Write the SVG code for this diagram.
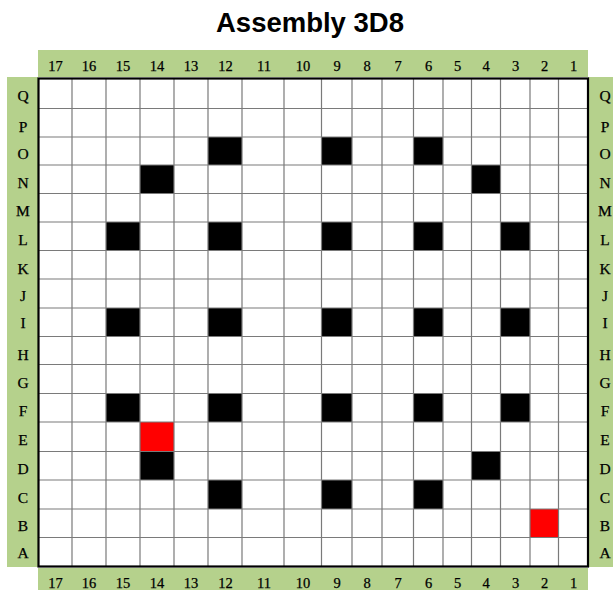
<svg xmlns="http://www.w3.org/2000/svg" width="613" height="590" viewBox="0 0 613 590">
<style>
.band{fill:#b5d18c}
.lbl{font-family:"Liberation Serif","Times New Roman",serif;font-size:14.5px;fill:#000;stroke:#000;stroke-width:0.25;text-anchor:middle}
.rl{font-size:15.5px}
.title{font-family:"Liberation Sans",Arial,sans-serif;font-size:27.5px;font-weight:bold;fill:#000;text-anchor:middle}
.blk{fill:#000}
.red{fill:#ff0000}
.gl{stroke:#7a7a7a;stroke-width:1.2;fill:none}
</style>
<rect width="613" height="590" fill="#fff"/>
<text class="title" x="310" y="32">Assembly 3D8</text>
<g id="bands">
<rect class="band" x="38" y="50" width="550" height="27"/>
<rect class="band" x="7" y="77" width="31" height="490"/>
<rect class="band" x="588" y="77" width="25" height="490"/>
<rect class="band" x="38" y="568" width="550" height="22"/>
</g>
<g id="cells">
<rect class="blk" x="208" y="137" width="34" height="28"/>
<rect class="blk" x="321.5" y="137" width="30.5" height="28"/>
<rect class="blk" x="413.5" y="137" width="29.5" height="28"/>
<rect class="blk" x="140" y="165" width="34" height="28.5"/>
<rect class="blk" x="471.5" y="165" width="29" height="28.5"/>
<rect class="blk" x="106" y="222" width="34" height="28.5"/>
<rect class="blk" x="208" y="222" width="34" height="28.5"/>
<rect class="blk" x="321.5" y="222" width="30.5" height="28.5"/>
<rect class="blk" x="413.5" y="222" width="29.5" height="28.5"/>
<rect class="blk" x="500.5" y="222" width="29.5" height="28.5"/>
<rect class="blk" x="106" y="308" width="34" height="28.5"/>
<rect class="blk" x="208" y="308" width="34" height="28.5"/>
<rect class="blk" x="321.5" y="308" width="30.5" height="28.5"/>
<rect class="blk" x="413.5" y="308" width="29.5" height="28.5"/>
<rect class="blk" x="500.5" y="308" width="29.5" height="28.5"/>
<rect class="blk" x="106" y="393.5" width="34" height="28.5"/>
<rect class="blk" x="208" y="393.5" width="34" height="28.5"/>
<rect class="blk" x="321.5" y="393.5" width="30.5" height="28.5"/>
<rect class="blk" x="413.5" y="393.5" width="29.5" height="28.5"/>
<rect class="blk" x="500.5" y="393.5" width="29.5" height="28.5"/>
<rect class="red" x="140" y="422" width="34" height="29.5"/>
<rect class="blk" x="140" y="451.5" width="34" height="28.5"/>
<rect class="blk" x="471.5" y="451.5" width="29" height="28.5"/>
<rect class="blk" x="208" y="480" width="34" height="29"/>
<rect class="blk" x="321.5" y="480" width="30.5" height="29"/>
<rect class="blk" x="413.5" y="480" width="29.5" height="29"/>
<rect class="red" x="530" y="509" width="28.5" height="28.5"/>
</g>
<g id="grid">
<path class="gl" d="M72 78.5V566.5M106 78.5V566.5M140 78.5V566.5M174 78.5V566.5M208 78.5V566.5M242 78.5V566.5M284 78.5V566.5M321.5 78.5V566.5M352 78.5V566.5M382 78.5V566.5M413.5 78.5V566.5M443 78.5V566.5M471.5 78.5V566.5M500.5 78.5V566.5M530 78.5V566.5M558.5 78.5V566.5"/>
<path class="gl" d="M38.5 108.5H588M38.5 137H588M38.5 165H588M38.5 193.5H588M38.5 222H588M38.5 250.5H588M38.5 279H588M38.5 308H588M38.5 336.5H588M38.5 364.5H588M38.5 393.5H588M38.5 422H588M38.5 451.5H588M38.5 480H588M38.5 509H588M38.5 537.5H588"/>
<rect x="38.5" y="78.5" width="549.5" height="488" fill="none" stroke="#000" stroke-width="2.2"/>
</g>
<g id="col-labels-top" class="lbl">
<text x="55.5" y="71">17</text><text x="89" y="71">16</text><text x="123" y="71">15</text><text x="157" y="71">14</text><text x="191" y="71">13</text><text x="225.5" y="71">12</text><text x="264" y="71">11</text><text x="303" y="71">10</text><text x="337" y="71">9</text><text x="367" y="71">8</text><text x="398" y="71">7</text><text x="428.5" y="71">6</text><text x="457.5" y="71">5</text><text x="486" y="71">4</text><text x="515.5" y="71">3</text><text x="544.5" y="71">2</text><text x="573.5" y="71">1</text>
</g>
<g id="col-labels-bottom" class="lbl">
<text x="55.5" y="588">17</text><text x="89" y="588">16</text><text x="123" y="588">15</text><text x="157" y="588">14</text><text x="191" y="588">13</text><text x="225.5" y="588">12</text><text x="264" y="588">11</text><text x="303" y="588">10</text><text x="337" y="588">9</text><text x="367" y="588">8</text><text x="398" y="588">7</text><text x="428.5" y="588">6</text><text x="457.5" y="588">5</text><text x="486" y="588">4</text><text x="515.5" y="588">3</text><text x="544.5" y="588">2</text><text x="573.5" y="588">1</text>
</g>
<g id="row-labels-left" class="lbl rl">
<text x="23" y="101">Q</text><text x="23" y="132">P</text><text x="23" y="159">O</text><text x="23" y="188">N</text><text x="23" y="216">M</text><text x="23" y="244.5">L</text><text x="23" y="273.5">K</text><text x="23" y="301">J</text><text x="23" y="328">I</text><text x="23" y="360">H</text><text x="23" y="387.5">G</text><text x="23" y="416">F</text><text x="23" y="444.5">E</text><text x="23" y="473.5">D</text><text x="23" y="503">C</text><text x="23" y="530.5">B</text><text x="23" y="558">A</text>
</g>
<g id="row-labels-right" class="lbl rl">
<text x="605" y="101">Q</text><text x="605" y="132">P</text><text x="605" y="159">O</text><text x="605" y="188">N</text><text x="605" y="216">M</text><text x="605" y="244.5">L</text><text x="605" y="273.5">K</text><text x="605" y="301">J</text><text x="605" y="328">I</text><text x="605" y="360">H</text><text x="605" y="387.5">G</text><text x="605" y="416">F</text><text x="605" y="444.5">E</text><text x="605" y="473.5">D</text><text x="605" y="503">C</text><text x="605" y="530.5">B</text><text x="605" y="558">A</text>
</g>
</svg>
